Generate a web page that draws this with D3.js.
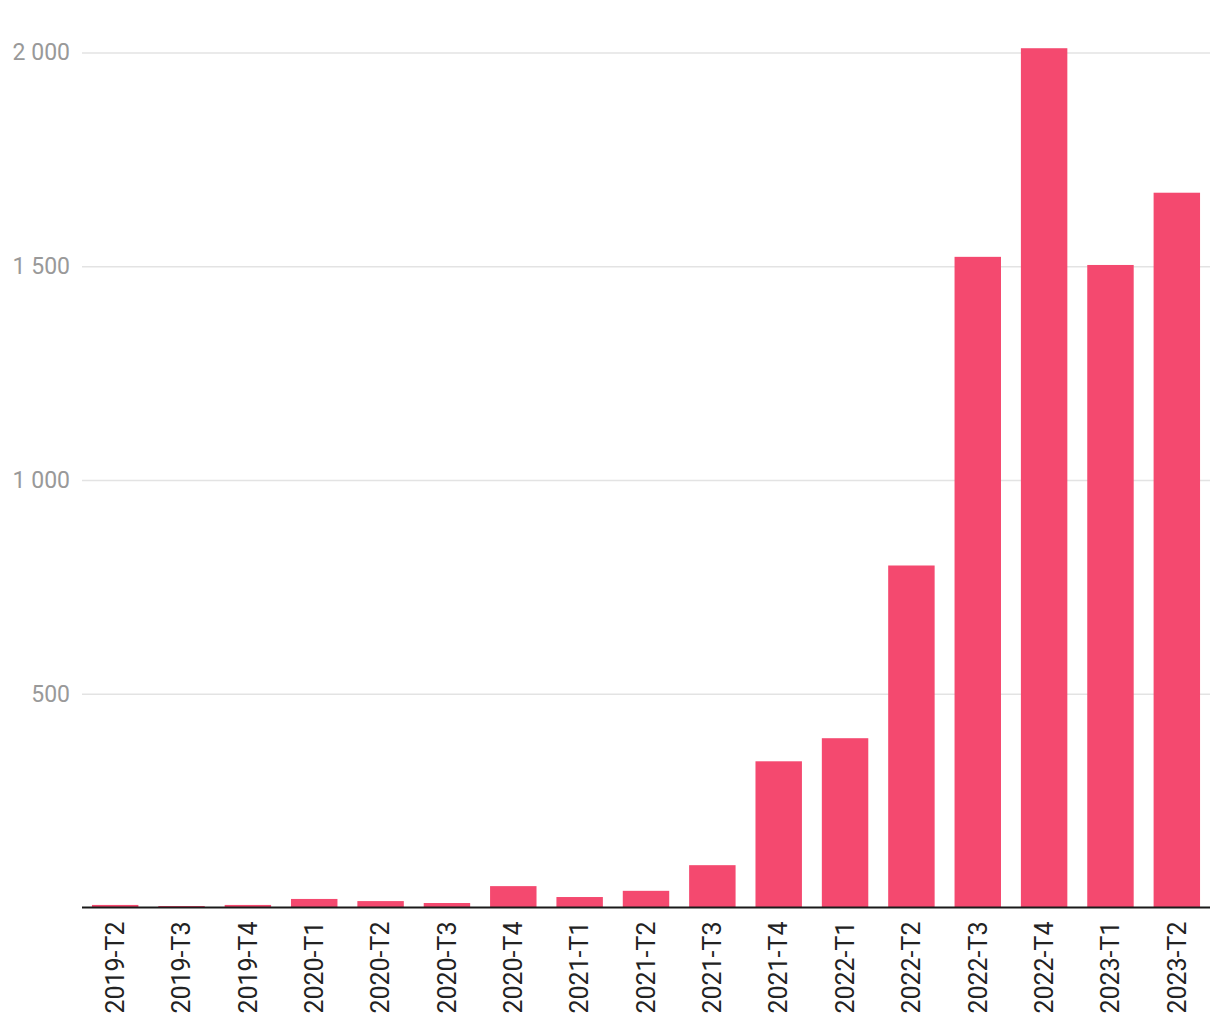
<!DOCTYPE html>
<html>
<head>
<meta charset="utf-8">
<script src="https://cdn.jsdelivr.net/npm/d3@7"></script>
<style>
  html, body { margin: 0; padding: 0; background: #fff; }
  svg { display: block; font-family: Roboto, "Noto Sans", sans-serif; }
</style>
</head>
<body>
<svg id="chart" width="1220" height="1020"></svg>
<script>
const categories = ["2019-T2","2019-T3","2019-T4","2020-T1","2020-T2","2020-T3","2020-T4","2021-T1","2021-T2","2021-T3","2021-T4","2022-T1","2022-T2","2022-T3","2022-T4","2023-T1","2023-T2"];
const values = [6, 3.5, 6, 20, 15, 10.5, 50, 24.5, 39, 99, 342, 396, 800, 1522, 2010, 1503, 1672];
const yTicks = [500, 1000, 1500, 2000];

const svg = d3.select("#chart");
const x0 = 82, x1 = 1210, yBase = 907.5, yTop2000 = 52.5;

const x = d3.scaleBand().domain(categories).range([x0, x1]).paddingInner(0.3).paddingOuter(0.15);
const y = d3.scaleLinear().domain([0, 2000]).range([yBase, yTop2000]);

const fmt = v => d3.format(",")(v).replace(/,/g, " ");

// gridlines
const grid = svg.append("g")
  .attr("transform", `translate(${x0},0)`)
  .call(d3.axisLeft(y).tickValues(yTicks).tickSize(-(x1 - x0)).tickFormat(fmt).tickPadding(12));
grid.select(".domain").remove();
grid.selectAll(".tick line").attr("stroke", "#e3e3e3").attr("stroke-width", 1.5);
grid.selectAll(".tick text").attr("fill", "#999").attr("font-size", 23).attr("font-family", "Roboto");

// bars
svg.append("g").selectAll("rect").data(values).join("rect")
  .attr("x", (d, i) => x(categories[i]))
  .attr("width", x.bandwidth())
  .attr("y", d => y(d))
  .attr("height", d => yBase - y(d))
  .attr("fill", "#f4496f");

// x axis
const xa = svg.append("g")
  .attr("transform", `translate(0,${yBase})`)
  .call(d3.axisBottom(x).tickSize(0).tickPadding(0));
xa.select(".domain").attr("stroke", "#1a1a1a").attr("stroke-width", 2).attr("d", `M${x0},0H${x1}`);
xa.selectAll(".tick text")
  .attr("transform", "rotate(-90)")
  .attr("text-anchor", "end")
  .attr("dy", "0.35em")
  .attr("x", -14)
  .attr("y", 0)
  .attr("fill", "#222")
  .attr("font-size", 25)
  .attr("font-family", "Roboto");
</script>
</body>
</html>
